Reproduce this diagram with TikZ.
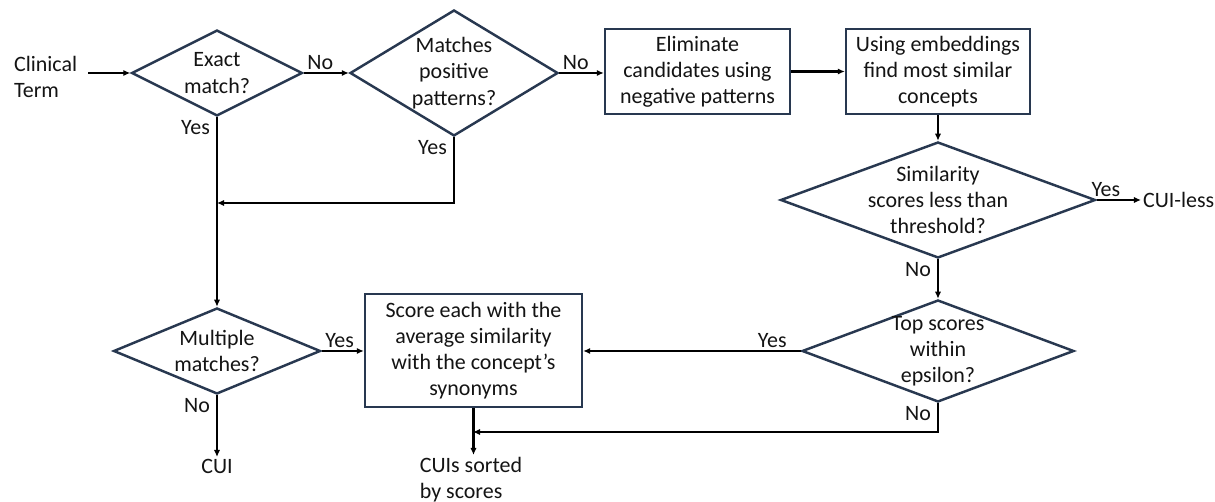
\documentclass[tikz,border=0pt]{standalone}
\usepackage{fontspec}
\setmainfont{Carlito}
\usetikzlibrary{shapes.geometric,arrows.meta,calc}
\definecolor{navy}{RGB}{40,56,80}
\definecolor{ink}{RGB}{20,20,20}
\begin{document}
\begin{tikzpicture}[x=0.02cm,y=-0.02cm,
  font=\fontsize{12.5}{14.9}\selectfont, text=ink,
  dec/.style={shape=diamond, draw=navy, line width=1.4pt, fill=white, inner sep=-10pt, align=center},
  proc/.style={shape=rectangle, draw=navy, line width=1.4pt, fill=white, align=center, inner sep=2pt},
  term/.style={inner sep=1pt, align=left},
  arr/.style={draw=black, line width=1.15pt, -{Latex[length=4pt,width=3.6pt]}},
  lab/.style={inner sep=1.5pt}]
\useasboundingbox (0,0) rectangle (1215,502);

% nodes
\node[term, anchor=west] (ct) at (12,77) {Clinical\\Term};
\node[dec, minimum width=3.42cm, minimum height=1.72cm] (d1) at (217,73) {Exact\\match?};
\node[dec, minimum width=4.16cm, minimum height=2.52cm] (d2) at (454,73) {Matches\\positive\\patterns?};
\node[proc, minimum width=3.7cm, minimum height=1.7cm] (b1) at (697.5,71.5) {Eliminate\\candidates using\\negative patterns};
\node[proc, minimum width=3.68cm, minimum height=1.7cm] (b2) at (938,71.5) {Using embeddings\\find most similar\\concepts};
\node[dec, inner sep=-16pt, minimum width=6.3cm, minimum height=2.32cm] (d3) at (938,200) {Similarity\\scores less than\\threshold?};
\node[term, anchor=west] (cuiless) at (1141,200) {CUI-less};
\node[dec, minimum width=5.44cm, minimum height=2.04cm] (d4) at (938,351) {Top scores\\within\\epsilon?};
\node[proc, minimum width=4.34cm, minimum height=2.26cm] (b3) at (473.5,350.5) {Score each with the\\average similarity\\with the concept’s\\synonyms};
\node[dec, minimum width=4.14cm, minimum height=1.72cm] (d5) at (217,351) {Multiple\\matches?};
\node[term, anchor=north] (cui) at (217,457) {CUI};
\node[term, anchor=north, align=left] (cuis) at (471,455) {CUIs sorted\\by scores};

\coordinate (j1) at (217,203);
\coordinate (j2) at (473,432);

% connectors
\draw[arr, shorten <=5pt] (ct.east |- d1.west) -- (d1.west);
\draw[arr] (d1.east) -- node[lab, pos=0, above right]{No} (d2.west);
\draw[arr] (d2.east) -- node[lab, pos=0, above right]{No} (d2.east -| b1.west);
\draw[arr] (b1.east) -- (b2.west);
\draw[arr] (b2.south) -- (d3.north);
\draw[arr] (d3.east) -- node[lab, pos=0, above right, xshift=-5pt]{Yes} (cuiless.west);
\draw[arr] (d3.south) -- node[lab, pos=0, below left, xshift=-2pt]{No} (d4.north);
\draw[arr] (d4.west) -- node[lab, pos=0, above left, xshift=-6pt]{Yes} (d4.west -| b3.east);
\draw[arr] (d4.south) -- node[lab, pos=0, below left, xshift=-2pt]{No} (d4.south |- j2) -- (j2);
\draw[arr] (b3.south) -- (cuis.north -| b3.south);
\draw[arr] (d1.south) -- node[lab, pos=0, below left, xshift=-2pt]{Yes} (d5.north);
\draw[arr] (d2.south) -- node[lab, pos=0, below left, xshift=-2pt]{Yes} (d2.south |- j1) -- (j1);
\draw[arr] (d5.east) -- node[lab, pos=0, above right]{Yes} (d5.east -| b3.west);
\draw[arr] (d5.south) -- node[lab, pos=0, below left, xshift=-2pt]{No} (cui.north);
\end{tikzpicture}
\end{document}
